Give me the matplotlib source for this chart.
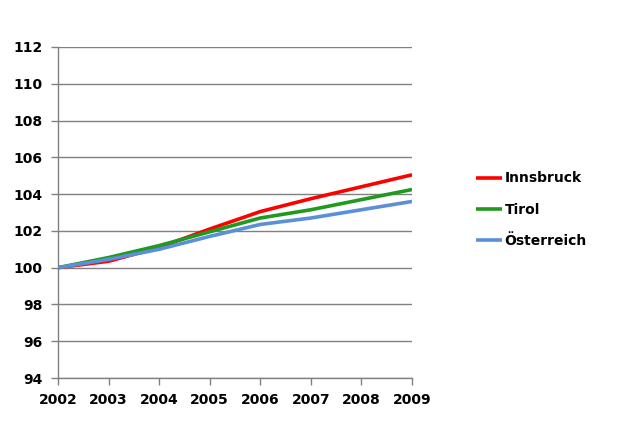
import matplotlib.pyplot as plt

years = [2002, 2003, 2004, 2005, 2006, 2007, 2008, 2009]
innsbruck = [100.0, 100.35, 101.1, 102.1, 103.05, 103.75, 104.4, 105.05]
tirol = [100.0, 100.55, 101.2, 101.95, 102.7, 103.15, 103.7, 104.25]
oesterreich = [100.0, 100.45, 101.0, 101.7, 102.35, 102.7, 103.15, 103.6]

series = [("Innsbruck", innsbruck, "#ff0000"),
          ("Tirol", tirol, "#1f9a1f"),
          ("Österreich", oesterreich, "#5b8fd9")]

plt.rcParams['font.family'] = ['DejaVu Sans']

fig = plt.figure(figsize=(6.31, 4.32), dpi=100)
ax = fig.add_axes([58 / 631, 54 / 432, 354 / 631, 331 / 432])

for name, vals, col in series:
    ax.plot(years, vals, color=col, linewidth=2.6, label=name, solid_capstyle='butt')

ax.set_xlim(2002, 2009)
ax.set_ylim(94, 112)
ax.set_yticks(range(94, 113, 2))
ax.set_xticks(years)
ax.grid(axis='y', color='#808080', linewidth=1)
ax.set_axisbelow(True)

for side in ['top', 'right']:
    ax.spines[side].set_visible(False)
for side in ['left', 'bottom']:
    ax.spines[side].set_color('#808080')
    ax.spines[side].set_linewidth(1)

ax.tick_params(axis='both', color='#808080', length=5, width=1,
               labelsize=10, pad=6)
for lbl in ax.get_xticklabels() + ax.get_yticklabels():
    lbl.set_fontweight('bold')

leg = fig.legend(loc='upper left', bbox_to_anchor=(463 / 631, 1 - 159 / 432),
                 frameon=False, handlelength=1.9, handletextpad=0.2,
                 labelspacing=1.25, prop={'size': 10, 'weight': 'bold'})

fig.savefig("out.png", dpi=100)
